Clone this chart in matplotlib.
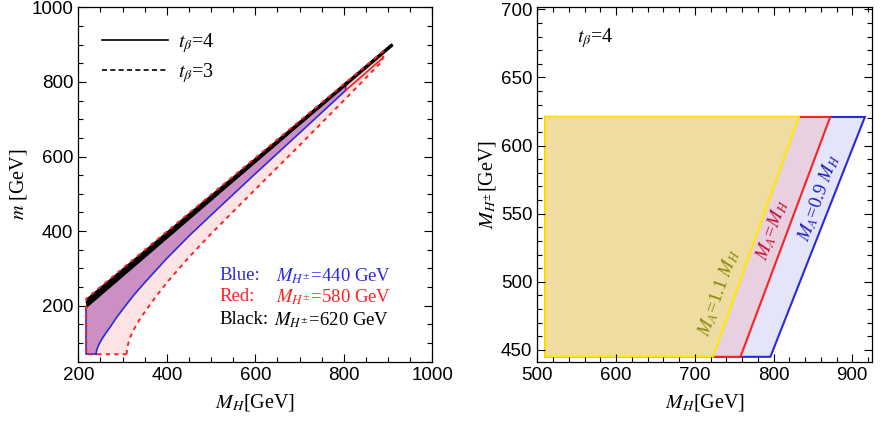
import numpy as np
import matplotlib
matplotlib.use("Agg")
import matplotlib.pyplot as plt
from matplotlib.ticker import MultipleLocator

plt.rcParams['mathtext.fontset'] = 'stix'
plt.rcParams['font.family'] = ['Liberation Serif', 'DejaVu Serif']

# ---- left panel data ----
mh_min, m_min = 218, 70
# black band (M_H+- = 620 GeV)
mh_black = [218, 910]
m_black_up = [219, 903]
m_black_lo = [193, 897]
# blue region lower edge, t_beta=4 (M_H+- = 440 GeV)
mh_blue = [240, 241, 243, 246, 250, 256, 263, 272, 285, 300, 325, 350, 400, 450, 500, 600, 700, 804]
m_blue = [70, 78, 86, 95, 104, 116, 128, 143, 166, 190, 228, 262, 327, 387, 443, 554, 663, 777]
m_blue_top = 798
# red region lower edge, t_beta=3 (M_H+- = 580 GeV)
mh_red3 = [309, 310, 312, 315, 320, 327, 337, 350, 375, 400, 450, 500, 600, 700, 804, 887]
m_red3 = [70, 82, 95, 108, 123, 140, 160, 183, 224, 262, 330, 393, 512, 630, 755, 856]
# red region lower edge, t_beta=4
mh_red4 = [804, 890]
m_red4 = [777, 866]
m_red_top = 883

# ---- right panel data ----
mh_left = 510
mhc_lo, mhc_hi = 445, 621
mh_yel = [723, 832]   # M_A = 1.1 M_H
mh_red = [758, 872]   # M_A = M_H
mh_blu = [796, 916]   # M_A = 0.9 M_H

fig = plt.figure(figsize=(8.83, 4.24), dpi=100)
ax1 = fig.add_axes([0.0887, 0.1469, 0.4009, 0.8359])
ax2 = fig.add_axes([0.6085, 0.1469, 0.379, 0.8359])

pink = '#fde3e3'
purple = '#cc8fc4'
red = '#ff2020'
blue = '#2a2ae0'

# pink region (t_beta=3)
px = [mh_min] + mh_red3 + [mh_red4[-1], mh_min]
py = [m_min] + m_red3 + [m_red_top, m_black_up[0]]
ax1.fill(px, py, color=pink, lw=0)
# red t_beta=4 sliver near the top
ax1.fill(mh_red4 + mh_red4[::-1], m_red4 + [m_red_top, m_blue_top], color='#fbc8c8', lw=0)
# purple region (blue t_beta=4)
bx = [mh_min] + mh_blue + [mh_blue[-1], mh_min]
by = [m_min] + m_blue + [m_blue_top, m_black_up[0]]
ax1.fill(bx, by, color=purple, lw=0)
# blue outline
ax1.plot([mh_min, mh_min, mh_blue[0]], [m_black_lo[0], m_min, m_min], color=blue, lw=1.2)
ax1.plot(mh_blue + [mh_blue[-1]], m_blue + [m_blue_top], color=blue, lw=1.2)
# red solid line
ax1.plot(mh_red4, m_red4, color=red, lw=1.2)
# black band
ax1.fill(mh_black + mh_black[::-1], m_black_up + m_black_lo[::-1], color='black', lw=0)
ax1.plot(mh_black, [0.5 * (a + b) for a, b in zip(m_black_up, m_black_lo)], color='black', lw=2.5,
         solid_capstyle='butt')
# red dashed outline (t_beta=3)
dash = dict(color=red, lw=1.4, ls=(0, (2.2, 2.2)))
ax1.plot([mh_red4[-1], mh_min, mh_min, mh_red3[0]],
         [m_red_top, m_black_up[0], m_min, m_min], **dash)
ax1.plot(mh_red3 + [mh_red4[-1]], m_red3 + [m_red_top], **dash)

# legend
ax1.plot([], [], color='black', lw=1.2, label=r'$t_{\beta}$=4')
ax1.plot([], [], color='black', lw=1.2, ls=(0, (3, 2)), label=r'$t_{\beta}$=3')
ax1.legend(loc='upper left', bbox_to_anchor=(0.015, 0.985), frameon=False, fontsize=14.5,
           handlelength=3.3, handletextpad=0.5, labelspacing=0.3)

fs = 13.5
ax1.text(0.40, 0.242, 'Blue:', color=blue, fontsize=fs, transform=ax1.transAxes, va='center')
ax1.text(0.40, 0.183, 'Red:', color=red, fontsize=fs, transform=ax1.transAxes, va='center')
ax1.text(0.40, 0.118, 'Black:', color='black', fontsize=fs, transform=ax1.transAxes, va='center')
ax1.text(0.558, 0.242, r'$M_{H^{\pm}}$=440 GeV', color=blue, fontsize=fs, transform=ax1.transAxes, va='center')
ax1.text(0.558, 0.183, r'$M_{H^{\pm}}$=580 GeV', color=red, fontsize=fs, transform=ax1.transAxes, va='center')
ax1.text(0.552, 0.118, r'$M_{H^{\pm}}$=620 GeV', color='black', fontsize=fs, transform=ax1.transAxes, va='center')

ax1.set_xlim(200, 1000)
ax1.set_ylim(50, 1000)
ax1.xaxis.set_major_locator(MultipleLocator(200))
ax1.xaxis.set_minor_locator(MultipleLocator(50))
ax1.yaxis.set_major_locator(MultipleLocator(200))
ax1.yaxis.set_minor_locator(MultipleLocator(50))
ax1.set_xlabel(r'$M_H$[GeV]', fontsize=14.5, labelpad=6)
ax1.set_ylabel(r'$m$ [GeV]', fontsize=14.5, labelpad=2)

# ---- right panel ----
def region(mh_edge):
    return ([mh_left, mh_edge[0], mh_edge[1], mh_left], [mhc_lo, mhc_lo, mhc_hi, mhc_hi])

for edge, fc, ec in [(mh_blu, '#e4e4fa', blue), (mh_red, '#e8d0e0', red), (mh_yel, '#eedca0', '#ffe800')]:
    xs, ys = region(edge)
    ax2.fill(xs, ys, facecolor=fc, edgecolor=ec, lw=1.5, joinstyle='miter')

ax2.text(0.12, 0.913, r'$t_{\beta}$=4', fontsize=14.5, transform=ax2.transAxes, va='center', ha='left')
ang = 70.5
ax2.text(731, 492, r'$M_A$=1.1 $M_H$', color='#8a8a10', fontsize=13.5, rotation=ang,
         ha='center', va='center', rotation_mode='anchor')
ax2.text(799, 538, r'$M_A$=$M_H$', color='#c01030', fontsize=13.5, rotation=ang,
         ha='center', va='center', rotation_mode='anchor')
ax2.text(858, 562, r'$M_A$=0.9 $M_H$', color='#2020c0', fontsize=13.5, rotation=ang,
         ha='center', va='center', rotation_mode='anchor')

ax2.set_xlim(500, 925)
ax2.set_ylim(441.4, 701.5)
ax2.xaxis.set_major_locator(MultipleLocator(100))
ax2.xaxis.set_minor_locator(MultipleLocator(20))
ax2.yaxis.set_major_locator(MultipleLocator(50))
ax2.yaxis.set_minor_locator(MultipleLocator(10))
ax2.set_xlabel(r'$M_H$[GeV]', fontsize=14.5, labelpad=6)
ax2.set_ylabel(r'$M_{H^{\pm}}$[GeV]', fontsize=14.5, labelpad=2)

for ax in (ax1, ax2):
    for s in ax.spines.values():
        s.set_linewidth(0.9)
    ax.tick_params(which='both', direction='in', top=True, right=True, width=0.8)
    ax.tick_params(which='major', length=6)
    ax.tick_params(which='minor', length=3.5)
    for lab in ax.get_xticklabels() + ax.get_yticklabels():
        lab.set_family(['Liberation Sans', 'DejaVu Sans'])
        lab.set_fontsize(13.5)

fig.savefig('out.png', dpi=100)
